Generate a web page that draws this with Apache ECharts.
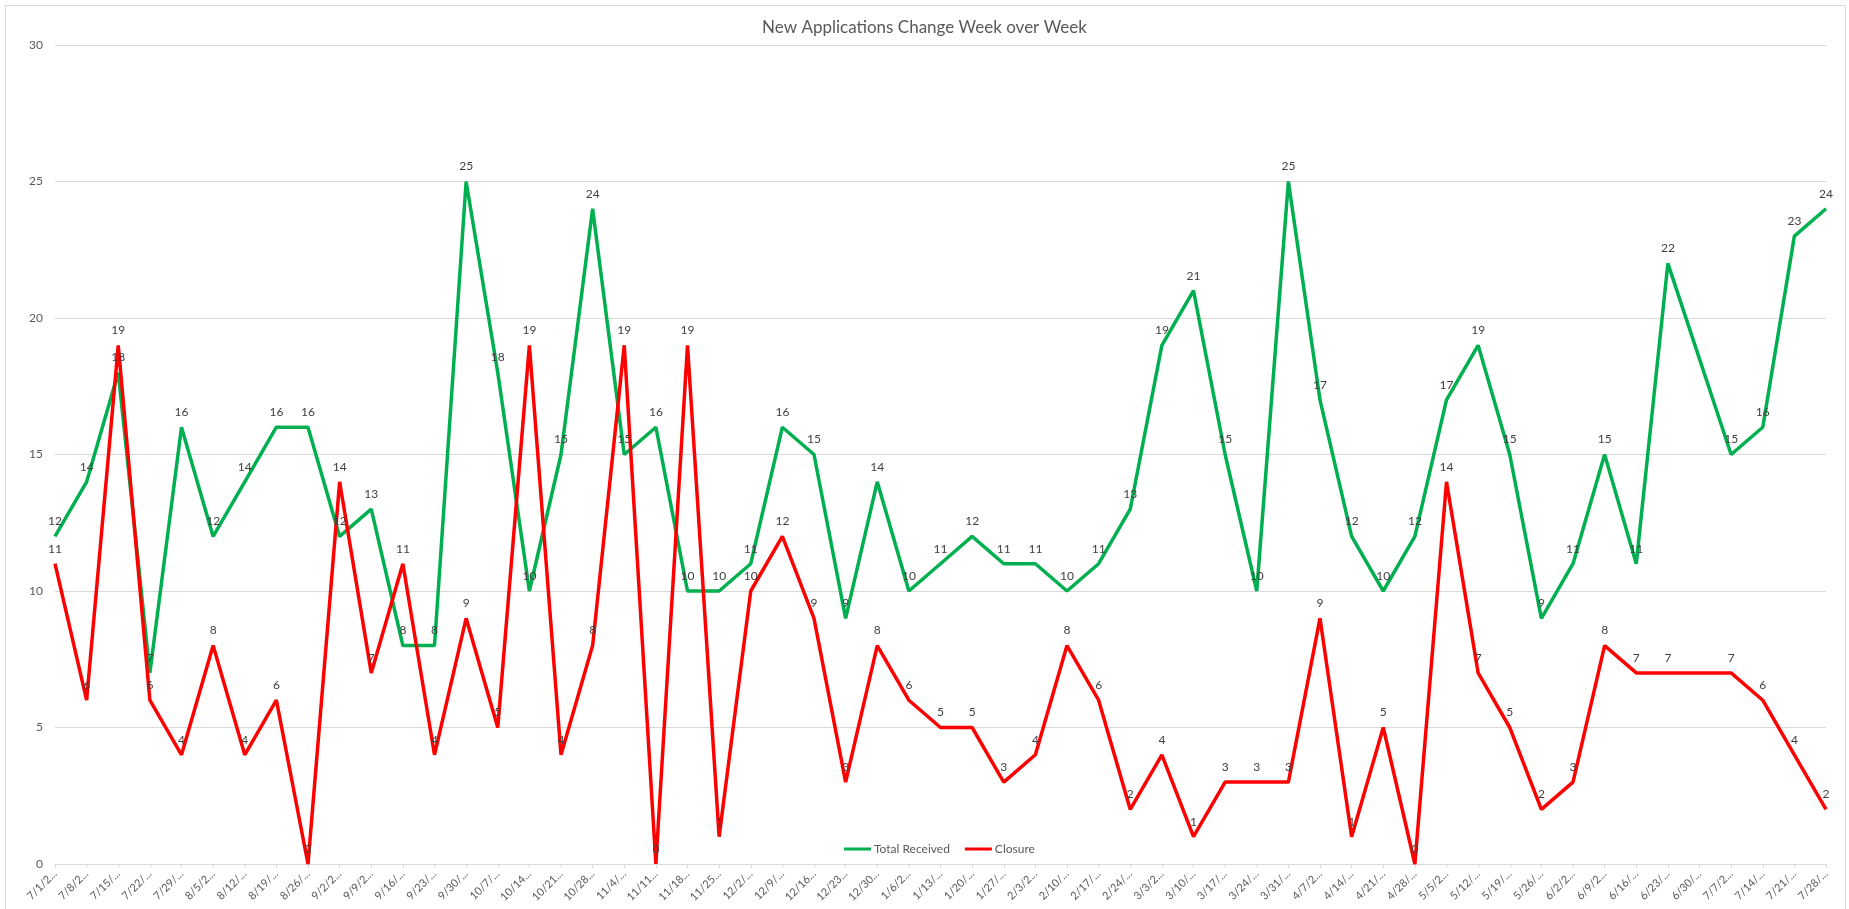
<!DOCTYPE html>
<html>
<head>
<meta charset="utf-8">
<title>New Applications Change Week over Week</title>
<script src="https://cdn.jsdelivr.net/npm/echarts@6/dist/echarts.min.js"></script>
<style>
  html, body { margin: 0; padding: 0; background: #fff; }
  #chart { width: 1849px; height: 909px; }
</style>
</head>
<body>
<div id="chart"></div>
<script>
// weekly dates (Monday of each week)
const weeks = [
  '7/1/2024', '7/8/2024', '7/15/2024', '7/22/2024', '7/29/2024', '8/5/2024', '8/12/2024',
  '8/19/2024', '8/26/2024', '9/2/2024', '9/9/2024', '9/16/2024', '9/23/2024', '9/30/2024',
  '10/7/2024', '10/14/2024', '10/21/2024', '10/28/2024', '11/4/2024', '11/11/2024',
  '11/18/2024', '11/25/2024', '12/2/2024', '12/9/2024', '12/16/2024', '12/23/2024',
  '12/30/2024', '1/6/2025', '1/13/2025', '1/20/2025', '1/27/2025', '2/3/2025', '2/10/2025',
  '2/17/2025', '2/24/2025', '3/3/2025', '3/10/2025', '3/17/2025', '3/24/2025', '3/31/2025',
  '4/7/2025', '4/14/2025', '4/21/2025', '4/28/2025', '5/5/2025', '5/12/2025', '5/19/2025',
  '5/26/2025', '6/2/2025', '6/9/2025', '6/16/2025', '6/23/2025', '6/30/2025', '7/7/2025',
  '7/14/2025', '7/21/2025', '7/28/2025'
];

const totalReceived = [
  12, 14, 18, 7, 16, 12, 14, 16, 16, 12, 13, 8, 8, 25, 18, 10, 15, 24, 15, 16, 10, 10, 11, 16, 15, 9, 14,
  10, 11, 12, 11, 11, 10, 11, 13, 19, 21, 15, 10, 25, 17, 12, 10, 12, 17, 19, 15, 9, 11, 15, 11, 22, null, 15, 16, 23, 24
];

const closure = [
  11, 6, 19, 6, 4, 8, 4, 6, 0, 14, 7, 11, 4, 9, 5, 19, 4, 8, 19, 0, 19, 1, 10, 12, 9, 3, 8,
  6, 5, 5, 3, 4, 8, 6, 2, 4, 1, 3, 3, 3, 9, 1, 5, 0, 14, 7, 5, 2, 3, 8, 7, 7, null, 7, 6, 4, 2
];

const FONT = 'Lato, "Open Sans", sans-serif';

function lineSeries(name, data, color) {
  return {
    name: name,
    type: 'line',
    data: data,
    connectNulls: true,
    symbol: 'circle',
    symbolSize: 0,
    showSymbol: true,
    lineStyle: { width: 3.5, color: color },
    itemStyle: { color: color },
    label: {
      show: true,
      position: 'top',
      distance: 9,
      color: '#404040',
      fontFamily: FONT,
      fontSize: 12
    },
    emphasis: { disabled: true }
  };
}

const chart = echarts.init(document.getElementById('chart'));
chart.setOption({
  animation: false,
  backgroundColor: '#fff',
  title: {
    text: 'New Applications Change Week over Week',
    left: 'center',
    top: 14,
    textStyle: { color: '#595959', fontFamily: FONT, fontSize: 17, fontWeight: 'normal' }
  },
  graphic: [{
    type: 'rect',
    shape: { x: 5.5, y: 5.5, width: 1840, height: 910 },
    style: { fill: 'none', stroke: '#D9D9D9', lineWidth: 1 },
    silent: true
  }],
  legend: {
    left: 839,
    top: 838,
    icon: 'rect',
    itemWidth: 27,
    itemHeight: 3,
    itemGap: 15,
    textStyle: { color: '#595959', fontFamily: FONT, fontSize: 12, padding: [0, 0, 0, -2] },
    data: ['Total Received', 'Closure']
  },
  grid: { left: 55, right: 23, top: 45, bottom: 45, containLabel: false },
  xAxis: {
    type: 'category',
    data: weeks,
    boundaryGap: false,
    axisLine: { lineStyle: { color: '#D9D9D9', width: 1 } },
    axisTick: { show: true, length: 4, lineStyle: { color: '#D9D9D9' } },
    axisLabel: {
      interval: 0,
      rotate: 45,
      color: '#595959',
      fontFamily: FONT,
      fontSize: 11,
      margin: 8,
      formatter: v => v.slice(0, 5) + '...'
    }
  },
  yAxis: {
    type: 'value',
    min: 0,
    max: 30,
    interval: 5,
    axisLine: { show: false },
    axisTick: { show: false },
    splitLine: { lineStyle: { color: '#D9D9D9', width: 1 } },
    axisLabel: { color: '#595959', fontFamily: FONT, fontSize: 12, margin: 12 }
  },
  series: [
    lineSeries('Total Received', totalReceived, '#00B050'),
    lineSeries('Closure', closure, '#FF0000')
  ]
});
</script>
</body>
</html>
